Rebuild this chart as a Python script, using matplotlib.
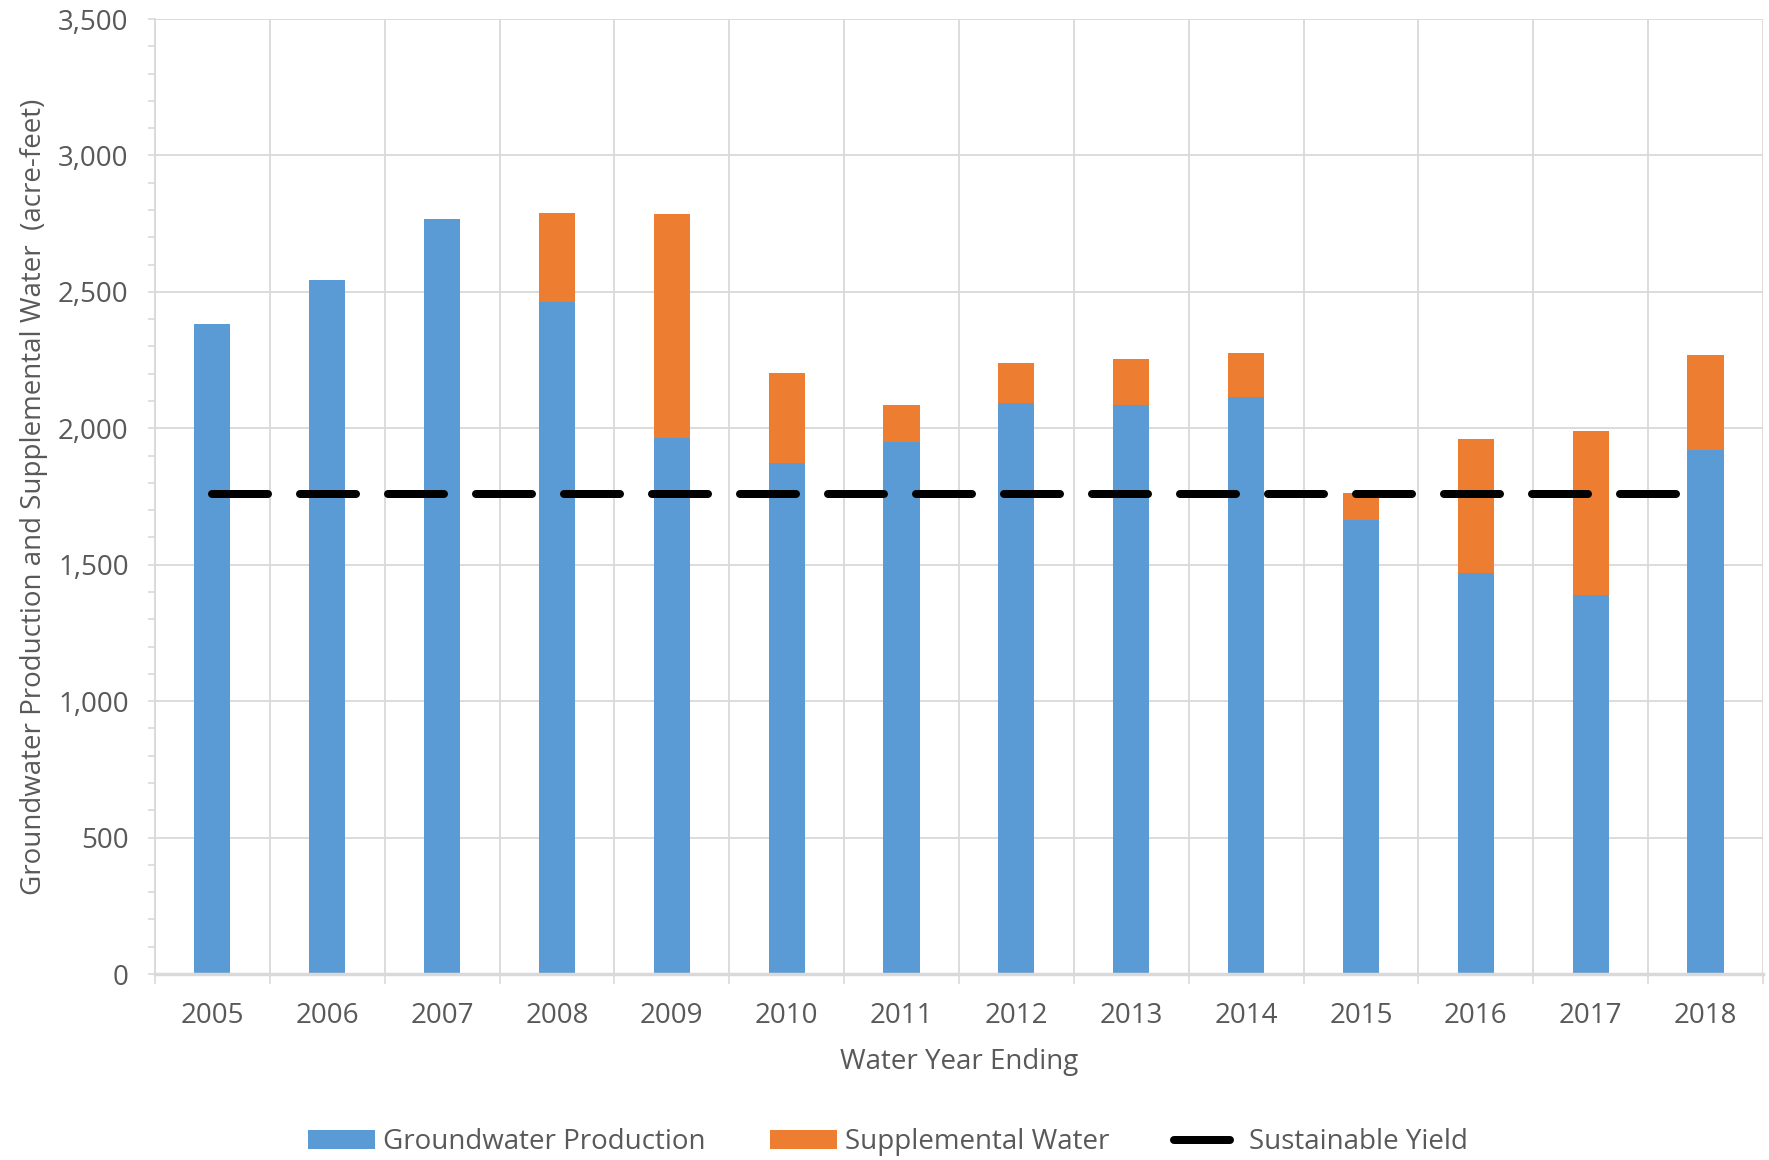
import numpy as np
import matplotlib.pyplot as plt
from matplotlib.ticker import MultipleLocator, FuncFormatter

plt.rcParams['font.family'] = ['Open Sans', 'DejaVu Sans']

# Water years and volumes (acre-feet)
years = ['2005', '2006', '2007', '2008', '2009', '2010', '2011',
         '2012', '2013', '2014', '2015', '2016', '2017', '2018']
groundwater = [2383, 2544, 2768, 2462, 1965, 1874, 1949,
               2094, 2085, 2114, 1663, 1469, 1390, 1920]
supplemental = [0, 0, 0, 327, 820, 327, 136,
                144, 170, 162, 100, 492, 600, 347]
sustainable_yield = [1760, 1760, 1760, 1760, 1760, 1760, 1760,
                     1760, 1760, 1760, 1760, 1760, 1760, 1760]

blue = '#5B9BD5'
orange = '#ED7D31'
grid_col = '#D9D9D9'
text_col = '#595959'
fs = 20

fig = plt.figure(figsize=(17.69, 11.6), dpi=100)
ax = fig.add_axes([0.0876, 0.1603, 0.909, 0.8233])

x = np.arange(len(years))
width = 0.315
b1 = ax.bar(x, groundwater, width, color=blue, zorder=3, label='Groundwater Production')
b2 = ax.bar(x, supplemental, width, bottom=groundwater, color=orange, zorder=3,
            label='Supplemental Water')
ln, = ax.plot(x, sustainable_yield, color='black', lw=5.76, dashes=(7, 4),
              dash_capstyle='round', solid_capstyle='round', zorder=4,
              label='Sustainable Yield')

ax.set_xlim(-0.5, len(years) - 0.5)
ax.set_ylim(0, 3500)

# y axis: major every 500, minor every 100
ax.yaxis.set_major_locator(MultipleLocator(500))
ax.yaxis.set_minor_locator(MultipleLocator(100))
ax.yaxis.set_major_formatter(FuncFormatter(lambda v, p: f'{int(v):,}'))
ax.tick_params(axis='y', which='both', direction='out', length=5, width=1.2,
               color=grid_col, labelsize=fs, labelcolor=text_col, pad=14)

# x axis: labels at centres, tick marks + gridlines at boundaries
ax.set_xticks(x)
ax.set_xticklabels(years)
ax.set_xticks(np.arange(-0.5, len(years)), minor=True)
ax.tick_params(axis='x', which='major', length=0, labelsize=fs,
               labelcolor=text_col, pad=20)
ax.tick_params(axis='x', which='minor', direction='out', length=7, width=1.2,
               color=grid_col)

ax.grid(axis='y', which='major', color=grid_col, lw=1.3, zorder=0)
ax.grid(axis='x', which='minor', color=grid_col, lw=1.3, zorder=0)

for side in ['top', 'right']:
    ax.spines[side].set_visible(False)
ax.spines['left'].set_color(grid_col)
ax.spines['left'].set_linewidth(1.3)
ax.spines['bottom'].set_color(grid_col)
ax.spines['bottom'].set_linewidth(2.5)
ax.spines['bottom'].set_zorder(5)

ax.set_ylabel('Groundwater Production and Supplemental Water  (acre-feet)',
              fontsize=fs, color=text_col, labelpad=7)
ax.set_xlabel('Water Year Ending', fontsize=fs, color=text_col, labelpad=13)

fig.legend([b1, b2, ln], ['Groundwater Production', 'Supplemental Water', 'Sustainable Yield'],
           loc='center', bbox_to_anchor=(0.502, 0.0155), ncol=3, frameon=False,
           fontsize=fs, labelcolor=text_col, handlelength=2.42,
           handleheight=0.65, handletextpad=0.3, columnspacing=2.3)

fig.savefig('out.png', dpi=100)
